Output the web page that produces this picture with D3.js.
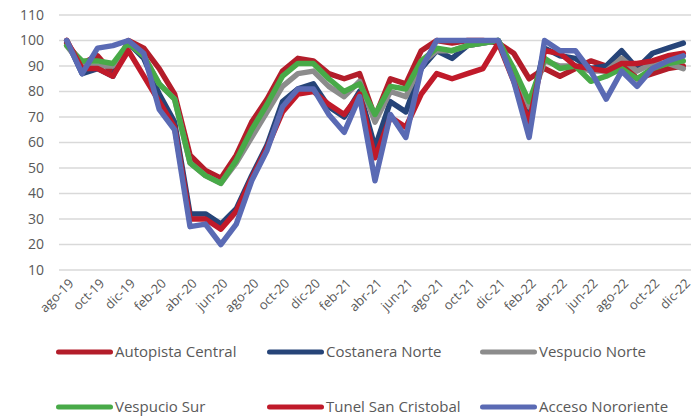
<!DOCTYPE html>
<html>
<head>
<meta charset="utf-8">
<script src="https://cdn.jsdelivr.net/npm/d3@7"></script>
<style>
  html, body { margin: 0; padding: 0; background: #fff; }
  svg { display: block; font-family: "Open Sans", "Noto Sans", sans-serif; }
</style>
</head>
<body>
<svg id="chart" width="693" height="419"></svg>
<script>
const months = ["ago-19","sep-19","oct-19","nov-19","dic-19","ene-20","feb-20","mar-20","abr-20","may-20","jun-20","jul-20",
  "ago-20","sep-20","oct-20","nov-20","dic-20","ene-21","feb-21","mar-21","abr-21","may-21","jun-21","jul-21",
  "ago-21","sep-21","oct-21","nov-21","dic-21","ene-22","feb-22","mar-22","abr-22","may-22","jun-22","jul-22",
  "ago-22","sep-22","oct-22","nov-22","dic-22"];

const autopistaCentral = [99,91,94,87,100,97,89,79,55,49,46,55,68,77,88,93,92,87,85,87,70,85,83,96,100,99,100,100,99,95,85,89,86,89,92,90,92,85,87,89,90];
const costaneraNorte   = [100,87,89,86,99,93,79,68,32,32,28,34,47,59,76,81,83,74,70,80,58,76,72,89,96,93,98,99,100,85,71,97,94,93,89,90,96,89,95,97,99];
const vespucioNorte    = [98,90,90,90,99,94,83,77,52,47,44,52,62,72,82,87,88,82,78,84,68,80,78,91,96,96,98,99,100,88,74,92,90,90,88,88,93,88,91,91,89];
const vespucioSur      = [98,92,92,91,99,94,83,77,52,47,44,53,65,75,86,91,91,85,80,83,71,82,81,92,97,96,98,99,100,89,76,93,89,90,84,86,89,85,89,91,92];
const tunelSanCristobal= [100,89,89,86,96,86,76,66,30,30,26,33,46,58,72,79,80,75,71,79,54,70,66,79,87,85,87,89,99,84,68,96,95,90,89,88,91,91,92,94,95];
const accesoNororiente = [100,87,97,98,100,95,73,65,27,28,20,28,45,57,74,81,81,71,64,78,45,71,62,89,100,100,100,100,100,84,62,100,96,96,88,77,88,82,89,92,94];

const yTicks = [10,20,30,40,50,60,70,80,90,100,110];
const xTickLabels = months.filter((d, i) => i % 2 === 0);

const series = [
  { name: "Autopista Central", values: autopistaCentral, color: "#b31d2a" },
  { name: "Costanera Norte", values: costaneraNorte, color: "#264478" },
  { name: "Vespucio Norte", values: vespucioNorte, color: "#8c8c8c" },
  { name: "Vespucio Sur", values: vespucioSur, color: "#48aa48" },
  { name: "Tunel San Cristobal", values: tunelSanCristobal, color: "#c01a2a" },
  { name: "Acceso Nororiente", values: accesoNororiente, color: "#5a6ab4" }
];

const svg = d3.select("#chart");
const plotLeft = 59, plotRight = 691, plotTop = 15, plotBottom = 270;

const x = d3.scalePoint().domain(months).range([plotLeft, plotRight]).padding(0.5);
const y = d3.scaleLinear().domain([10, 110]).range([plotBottom, plotTop]);

// gridlines
svg.append("g").selectAll("line").data(yTicks).join("line")
  .attr("x1", plotLeft).attr("x2", plotRight)
  .attr("y1", d => y(d)).attr("y2", d => y(d))
  .attr("stroke", "#d9d9d9").attr("stroke-width", 1.3);

// y axis
const yAxis = d3.axisLeft(y).tickValues(yTicks).tickSize(0).tickPadding(0);
const yg = svg.append("g").attr("transform", `translate(${plotLeft - 15},0)`).call(yAxis);
yg.select(".domain").remove();
yg.selectAll("text").attr("fill", "#595959").style("font-size", "14px")
  .style("font-family", "'Open Sans', 'Noto Sans', sans-serif");

// x axis
const xAxis = d3.axisBottom(x).tickValues(xTickLabels).tickSize(0).tickPadding(0);
const xg = svg.append("g").attr("transform", `translate(0,${plotBottom + 8})`).call(xAxis);
xg.select(".domain").remove();
xg.selectAll("text")
  .attr("fill", "#595959").style("font-size", "13px")
  .style("font-family", "'Open Sans', 'Noto Sans', sans-serif")
  .attr("text-anchor", "end")
  .attr("dy", "0.35em")
  .attr("transform", "translate(4,3) rotate(-45)");

// lines
const line = d3.line().x((d, i) => x(months[i])).y(d => y(d));
svg.append("g").selectAll("path").data(series).join("path")
  .attr("d", d => line(d.values))
  .attr("fill", "none")
  .attr("stroke", d => d.color)
  .attr("stroke-width", 5.5)
  .attr("stroke-linejoin", "round")
  .attr("stroke-linecap", "round");

// legend
const legendPos = [
  [57, 352], [268, 352], [481, 352],
  [57, 407], [268, 407], [481, 407]
];
const lg = svg.append("g").selectAll("g").data(series).join("g")
  .attr("transform", (d, i) => `translate(${legendPos[i][0]},${legendPos[i][1]})`);
lg.append("line").attr("x1", 1.5).attr("x2", 53.5).attr("y1", 0).attr("y2", 0)
  .attr("stroke", d => d.color).attr("stroke-width", 5).attr("stroke-linecap", "round");
lg.append("text").attr("x", 58).attr("y", 0).attr("dy", "0.35em")
  .attr("fill", "#595959").style("font-size", "15px")
  .text(d => d.name);
</script>
</body>
</html>
